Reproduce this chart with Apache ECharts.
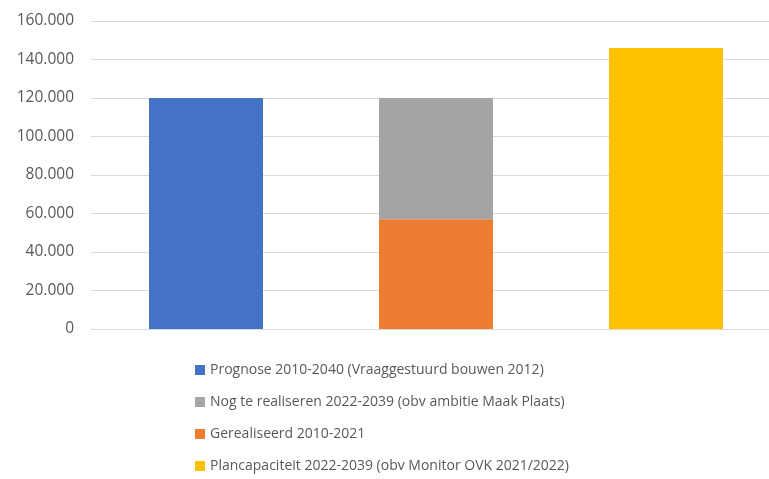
<!DOCTYPE html>
<html>
<head>
<meta charset="utf-8">
<script src="https://cdn.jsdelivr.net/npm/echarts@6/dist/echarts.min.js"></script>
<style>
  html, body { margin: 0; padding: 0; background: #fff; overflow: hidden; }
  /* original picture is cropped on the right, so the chart is a bit wider than the window */
  #chart { width: 790px; height: 479px; }
</style>
</head>
<body>
<div id="chart"></div>
<script>
// categories on the x axis (labels not shown in the original)
const categories = ['Prognose', 'Realisatie', 'Plancapaciteit'];

// one value per category, null where the series has no bar
const prognose = [120000, null, null];
const gerealiseerd = [null, 57000, null];
const nogTeRealiseren = [null, 63000, null];
const plancapaciteit = [null, null, 146000];

const names = {
  prognose: 'Prognose 2010-2040 (Vraaggestuurd bouwen 2012)',
  nog: 'Nog te realiseren 2022-2039 (obv ambitie Maak Plaats)',
  ger: 'Gerealiseerd 2010-2021',
  plan: 'Plancapaciteit 2022-2039 (obv Monitor OVK 2021/2022)'
};

const yTicks = { min: 0, max: 160000, interval: 20000 };

function fmt(v) {
  return String(v).replace(/\B(?=(\d{3})+(?!\d))/g, '.');
}

const chart = echarts.init(document.getElementById('chart'));

const bar = (name, data, color) => ({
  name: name,
  type: 'bar',
  stack: 'total',
  barWidth: 114,
  data: data,
  itemStyle: { color: color },
  emphasis: { disabled: true }
});

chart.setOption({
  animation: false,
  textStyle: { fontFamily: 'Open Sans' },
  grid: { left: 91, top: 21, width: 690, bottom: 150, containLabel: false },
  legend: {
    orient: 'vertical',
    left: 190,
    top: 358,
    itemGap: 18,
    itemWidth: 10,
    itemHeight: 10,
    icon: 'rect',
    textStyle: { color: '#595959', fontSize: 14, fontFamily: 'Open Sans' },
    data: [names.prognose, names.nog, names.ger, names.plan]
  },
  xAxis: {
    type: 'category',
    data: categories,
    axisLine: { show: true, lineStyle: { color: '#d9d9d9' } },
    axisTick: { show: false },
    axisLabel: { show: false }
  },
  yAxis: {
    type: 'value',
    min: yTicks.min,
    max: yTicks.max,
    interval: yTicks.interval,
    axisLine: { show: false },
    axisTick: { show: false },
    axisLabel: { color: '#595959', fontSize: 15.5, margin: 17, formatter: fmt },
    splitLine: { lineStyle: { color: '#d9d9d9', width: 1 } }
  },
  series: [
    bar(names.prognose, prognose, '#4472C4'),
    bar(names.ger, gerealiseerd, '#ED7D31'),
    bar(names.nog, nogTeRealiseren, '#A5A5A5'),
    bar(names.plan, plancapaciteit, '#FFC000')
  ]
});
</script>
</body>
</html>
